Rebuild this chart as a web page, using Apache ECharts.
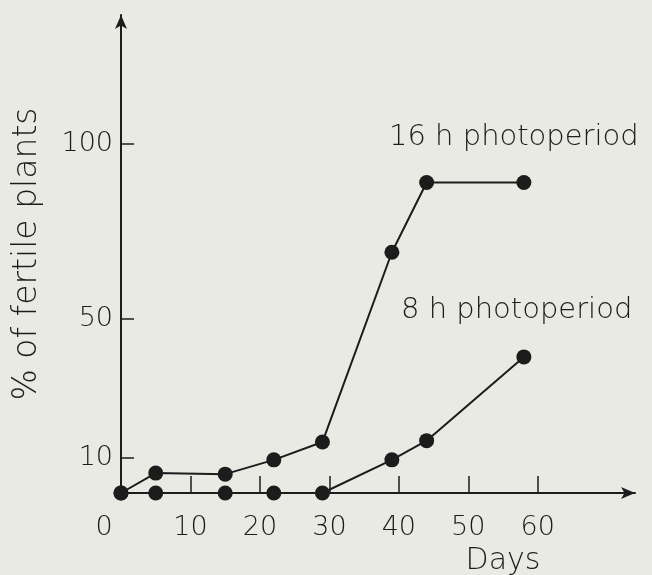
<!DOCTYPE html>
<html>
<head>
<meta charset="utf-8">
<script src="https://cdn.jsdelivr.net/npm/echarts@6/dist/echarts.min.js"></script>
<style>
  html, body { margin: 0; padding: 0; background: #eaeae4; }
  #chart { width: 652px; height: 575px; }
</style>
</head>
<body>
<div id="chart"></div>
<script>
// days of observation
const days = [0, 5, 15, 22, 29, 39, 44, 58];
// % of fertile plants
const long16h = [0, 5.7, 5.4, 9.5, 14.6, 69, 89, 89];
const short8h = [0, 0, 0, 0, 0, 9.5, 15, 39];
const xTicks = [0, 10, 20, 30, 40, 50, 60];
const yTicks = [10, 50, 100];

const ink = '#1c1c1c';
const font = "'DejaVu Sans ExtraLight', 'DejaVu Sans'";

function pairs(xs, ys) {
  return xs.map((x, i) => [x, ys[i]]);
}

const chart = echarts.init(document.getElementById('chart'));

const lineSeries = (name, data) => ({
  name: name,
  type: 'line',
  data: data,
  symbol: 'circle',
  symbolSize: 15,
  itemStyle: { color: ink },
  lineStyle: { color: ink, width: 2 },
  animation: false
});

chart.setOption({
  backgroundColor: '#eaeae4',
  animation: false,
  grid: { left: 121, top: 15, width: 514, bottom: 82, outerBoundsMode: 'none', containLabel: false },
  xAxis: {
    type: 'value',
    min: 0,
    max: 74,
    interval: 10,
    name: 'Days',
    nameLocation: 'middle',
    nameGap: 52,
    nameTextStyle: { fontFamily: font, fontWeight: 200, fontSize: 30, color: ink, padding: [0, 0, 0, 250] },
    axisLine: { lineStyle: { color: ink, width: 2 }, symbol: ['none', 'arrow'], symbolSize: [9, 14] },
    axisTick: { inside: true, length: 17, lineStyle: { color: ink, width: 1.5 }, customValues: xTicks.slice(1) },
    axisLabel: {
      customValues: xTicks,
      margin: 21,
      fontFamily: font,
      fontWeight: 200,
      fontSize: 27,
      color: ink,
      formatter: v => v === 0 ? '{z|0}' : String(v),
      rich: { z: { fontFamily: font, fontWeight: 200, fontSize: 27, color: ink, padding: [0, 34, 0, 0] } }
    },
    splitLine: { show: false }
  },
  yAxis: {
    type: 'value',
    min: 0,
    max: 137,
    name: '% of fertile plants',
    nameLocation: 'middle',
    nameGap: 77,
    nameRotate: 90,
    nameTextStyle: { fontFamily: font, fontWeight: 200, fontSize: 33, color: ink },
    axisLine: { lineStyle: { color: ink, width: 2 }, symbol: ['none', 'arrow'], symbolSize: [9, 14] },
    axisTick: { inside: true, length: 13, lineStyle: { color: ink, width: 1.5 }, customValues: yTicks },
    axisLabel: {
      customValues: yTicks,
      margin: 8,
      fontFamily: font,
      fontWeight: 200,
      fontSize: 27,
      color: ink
    },
    splitLine: { show: false }
  },
  graphic: [
    { type: 'text', left: 389, top: 123, style: { text: '16 h photoperiod', fontFamily: font, fontWeight: 200, fontSize: 29, fill: ink } },
    { type: 'text', left: 401, top: 296, style: { text: '8 h photoperiod', fontFamily: font, fontWeight: 200, fontSize: 29, fill: ink } }
  ],
  series: [
    lineSeries('16 h photoperiod', pairs(days, long16h)),
    lineSeries('8 h photoperiod', pairs(days, short8h))
  ]
});
</script>
</body>
</html>
